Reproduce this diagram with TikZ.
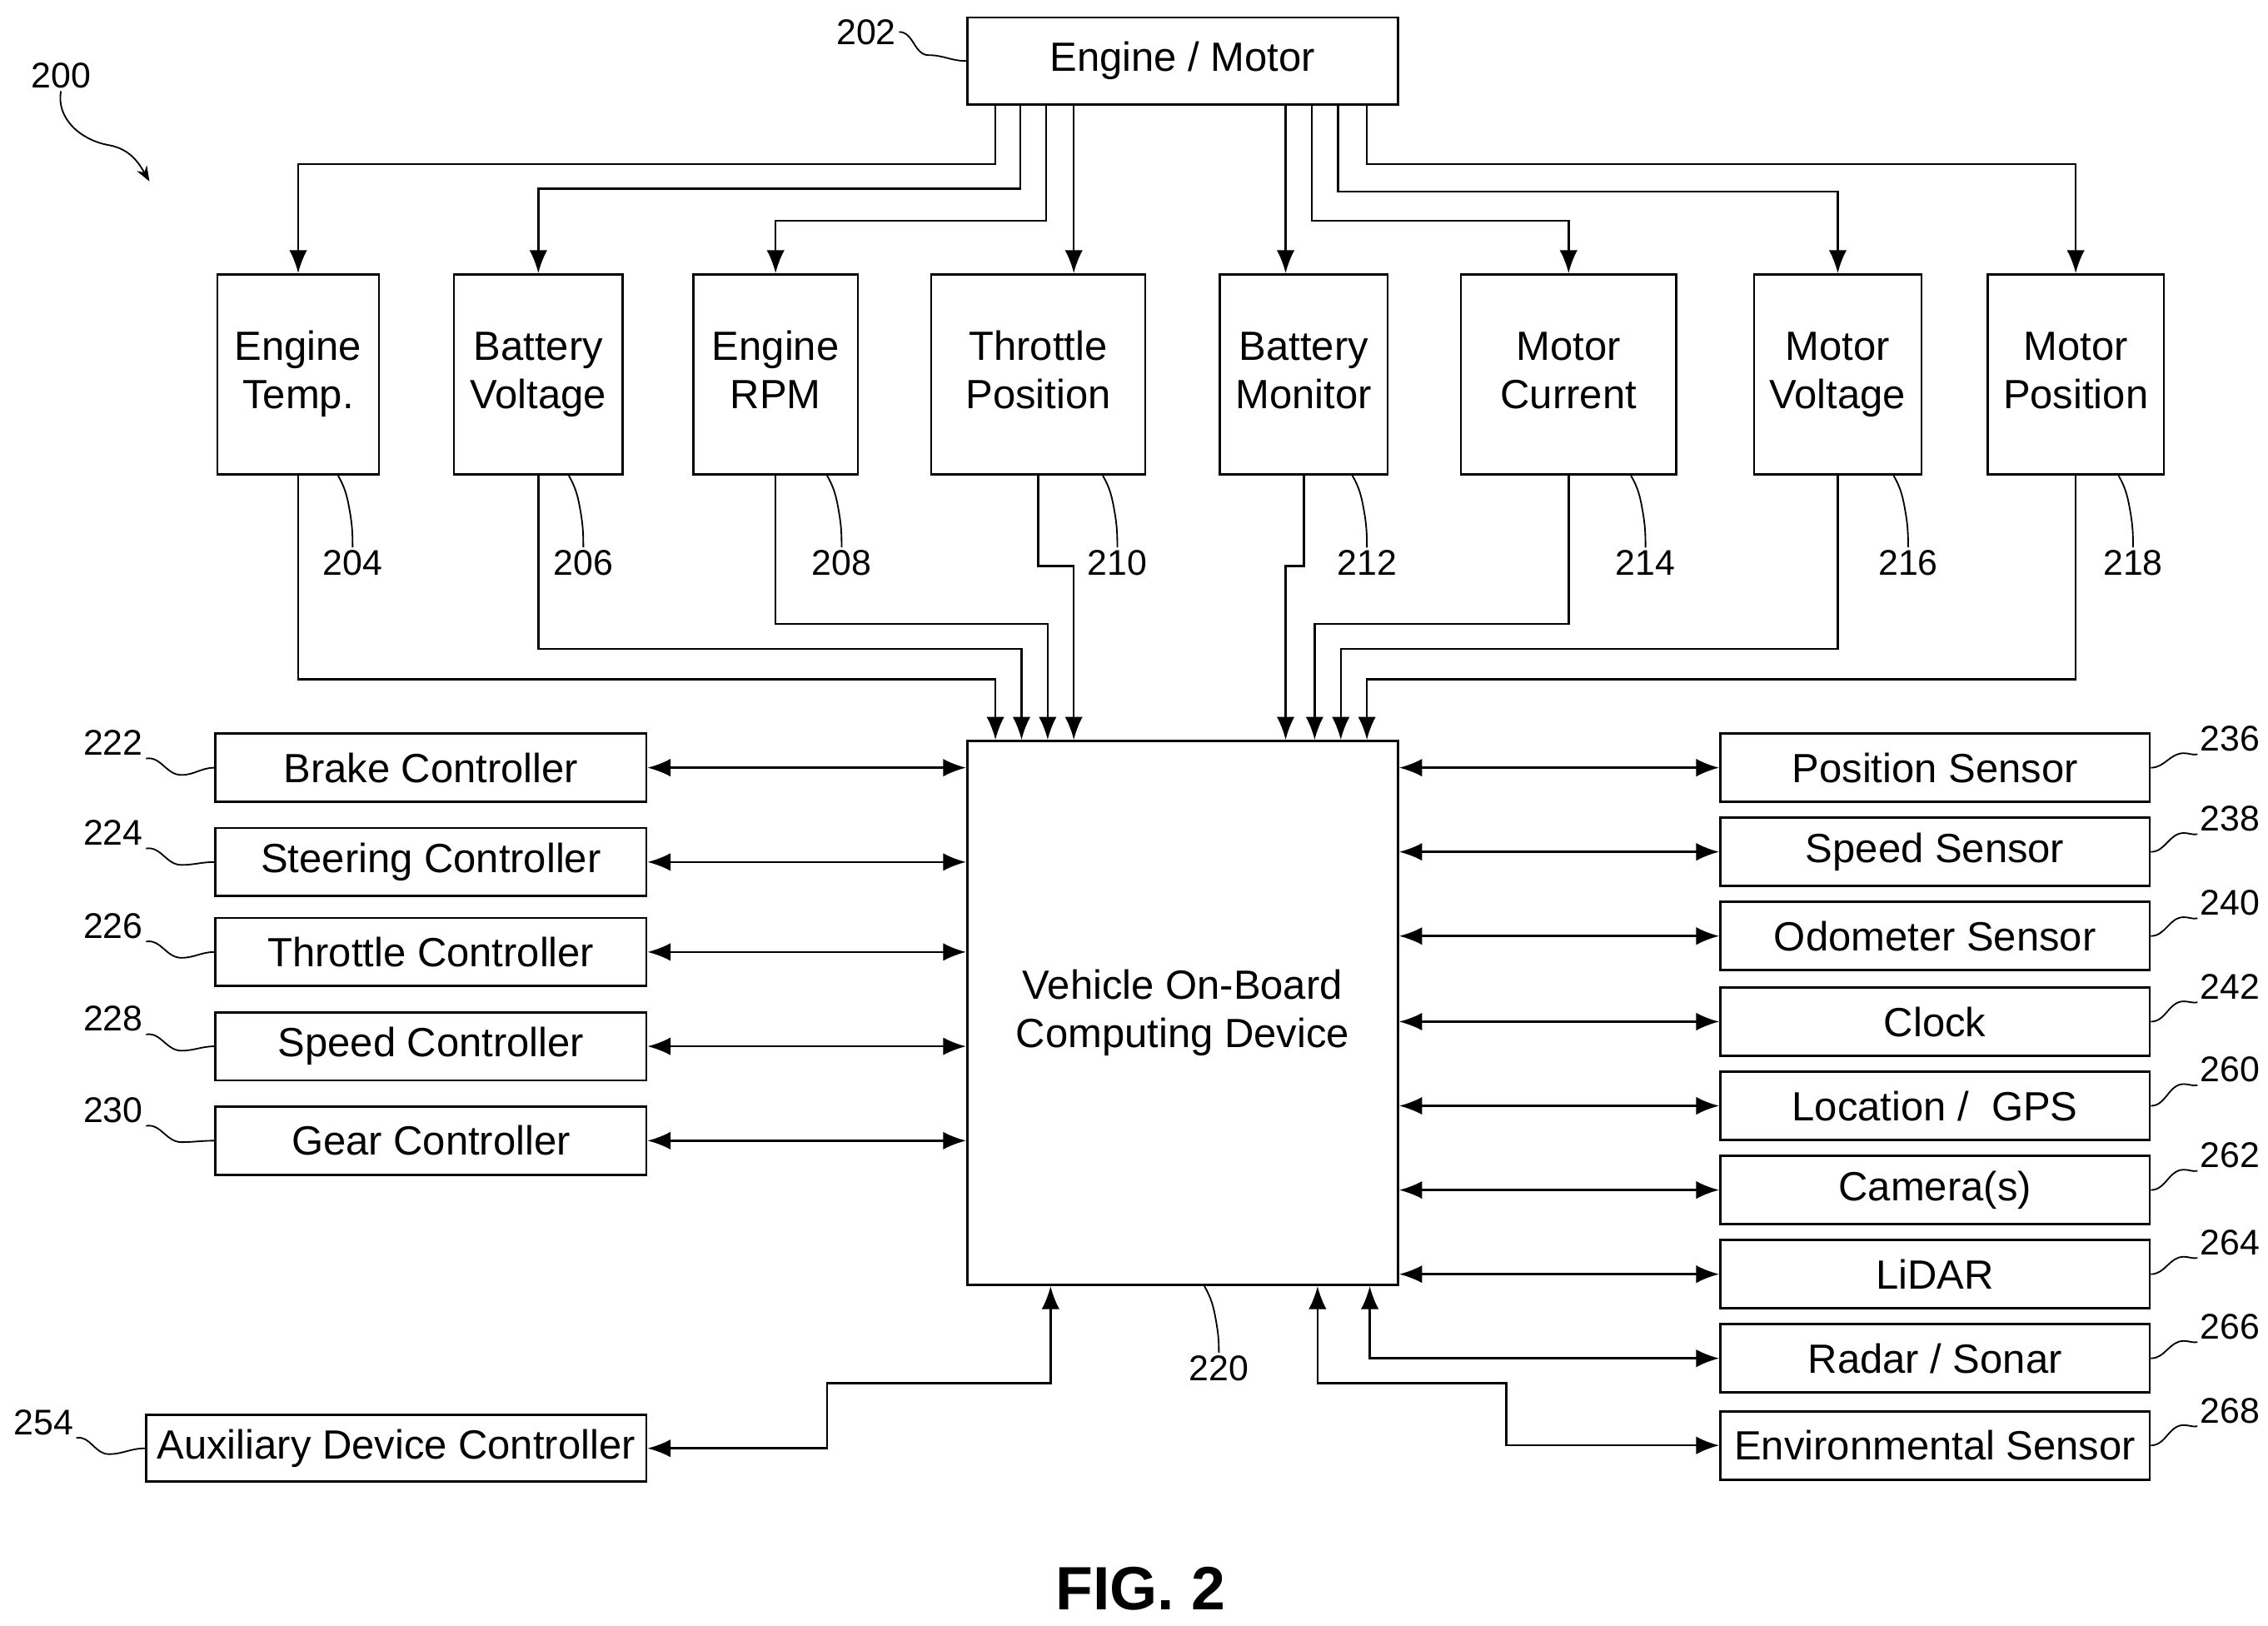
\documentclass[tikz,border=0pt]{standalone}
\usepackage{fontspec}
\setmainfont{Liberation Sans}
\usetikzlibrary{arrows.meta}
\tikzset{
  num/.style={inner sep=1pt, font=\fontsize{14}{16}\selectfont},
  arr/.style={-{Latex[length=9pt,width=7pt]}, line width=0.8pt},
  biarr/.style={{Latex[length=9pt,width=7pt]}-{Latex[length=9pt,width=7pt]}, line width=0.8pt},
  lead/.style={line width=0.6pt}
}
\begin{document}
\begin{tikzpicture}[x=0.02cm, y=-0.02cm]
\useasboundingbox (0,0) rectangle (1563,1120);
% main blocks
\node (engine) at (815,42) [draw, line width=0.9pt, minimum width=5.94cm, minimum height=1.2cm, font=\fontsize{16}{19}\selectfont] {Engine / Motor};
\node (cpu) at (815,698) [draw, line width=0.9pt, minimum width=5.94cm, minimum height=7.5cm, font=\fontsize{16}{19}\selectfont, align=center] {Vehicle On-Board\\Computing Device};
% sensor boxes on top
\foreach \n/\x/\w/\ta/\tb in {et/205.5/113/Engine/Temp., bv/371/118/Battery/Voltage, er/534.5/115/Engine/RPM, tp/715.5/149/Throttle/Position, bm/898.5/117/Battery/Monitor, mc/1081/150/Motor/Current, mv/1266.5/117/Motor/Voltage, mp/1430.5/123/Motor/Position}
  \node (\n) at (\x,258) [draw, line width=0.9pt, minimum width=\w*0.02cm-0.9pt, minimum height=2.76cm, font=\fontsize{16}{19}\selectfont, align=center] {\strut\ta\\\strut\tb};
% controllers on the left
\foreach \n/\y/\t in {brake/529/Brake Controller, steer/594/Steering Controller, thr/656/Throttle Controller, spd/721/Speed Controller, gear/786/Gear Controller}
  \node (\n) at (297,\y) [draw, line width=0.9pt, minimum width=5.94cm, minimum height=0.94cm, font=\fontsize{16}{19}\selectfont] {\t};
\node (aux) at (273,998) [draw, line width=0.9pt, minimum width=6.9cm, minimum height=0.92cm, inner sep=1pt, font=\fontsize{16}{19}\selectfont] {Auxiliary Device Controller};
% sensors on the right
\foreach \n/\y/\t in {pos/529/Position Sensor, ssen/587/Speed Sensor, odo/645/Odometer Sensor, clk/704/Clock, gps/762/{Location /\ \ GPS}, cam/820/Camera(s), lidar/878/LiDAR, radar/936/{Radar / Sonar}, env/996/Environmental Sensor}
  \node (\n) at (1333.5,\y) [draw, line width=0.9pt, minimum width=5.92cm, minimum height=0.94cm, inner sep=1pt, font=\fontsize{16}{19}\selectfont] {\t};
% engine to sensors
\foreach \sx/\ly/\tg in {686/113/et, 703/130/bv, 721/152/er, 904/152/mc, 922/132/mv, 942/113/mp}
  \draw [arr] (\sx,0 |- engine.south) |- (\tg.north |- 0,\ly) -- (\tg.north);
\draw [arr] (740,0 |- engine.south) -- (740,0 |- tp.north);
\draw [arr] (886,0 |- engine.south) -- (886,0 |- bm.north);
% sensors to computing device
\foreach \sr/\dx/\ly in {et/686/468, bv/704/447, er/722/430, tp/740/390, bm/886/390, mc/906/430, mv/924/447, mp/942/468}
  \draw [arr] (\sr.south) |- (\dx,\ly) -- (\dx,0 |- cpu.north);
% left and right links
\foreach \n in {brake, steer, thr, spd, gear}
  \draw [biarr] (\n.east) -- (cpu.west |- \n.east);
\foreach \n in {pos, ssen, odo, clk, gps, cam, lidar}
  \draw [biarr] (cpu.east |- \n.west) -- (\n.west);
\draw [biarr] (aux.east) -| (570,953) -| (724,0 |- cpu.south);
\draw [biarr] (944,0 |- cpu.south) |- (radar.west);
\draw [biarr] (908,0 |- cpu.south) |- (1038,953) |- (env.west);
% reference numbers
\node (n200) at (42,52) [num] {200};
\draw [lead, -{Stealth[length=6pt]}] (n200.south) to[out=-100,in=170] (75,100) to[out=-10,in=120] (103,125);
\node (n202) at (597,22) [num] {202};
\draw [lead] (n202.east) to[out=0,in=180] (640,38) to[out=0,in=180] (engine.west);
\foreach \n/\x/\l in {et/233/204, bv/392/206, er/570/208, tp/760/210, bm/932/212, mc/1124/214, mv/1305/216, mp/1460/218}{
  \node (n\l) at (\x+10,388) [num] {\l};
  \draw [lead] (\x,0 |- \n.south) to[out=-60,in=100] (\x+8,352) to[out=-80,in=90] (n\l.north);
}
\foreach \n/\y/\l in {brake/512/222, steer/574/224, thr/638/226, spd/702/228, gear/765/230}{
  \node (n\l) at (78,\y) [num] {\l};
  \draw [lead] (n\l.south east) to[out=10,in=180] (125,\y+22) to[out=0,in=180] (\n.west);
}
\node (n254) at (30,980) [num] {254};
\draw [lead] (n254.south east) to[out=10,in=180] (75,1002) to[out=0,in=180] (aux.west);
\foreach \n/\y/\l in {pos/509/236, ssen/564/238, odo/622/240, clk/680/242, gps/737/260, cam/796/262, lidar/856/264, radar/914/266, env/972/268}{
  \node (n\l) at (1537,\y) [num] {\l};
  \draw [lead] (\n.east) to[out=0,in=180] (1505,\y+10) to[out=0,in=190] (n\l.south west);
}
\node (n220) at (840,943) [num] {220};
\draw [lead] (830,0 |- cpu.south) to[out=-60,in=100] (838,910) to[out=-80,in=90] (n220.north);
\node (fig) at (786,1095) [font=\fontsize{24}{28}\selectfont\bfseries] {FIG. 2};
\end{tikzpicture}
\end{document}
